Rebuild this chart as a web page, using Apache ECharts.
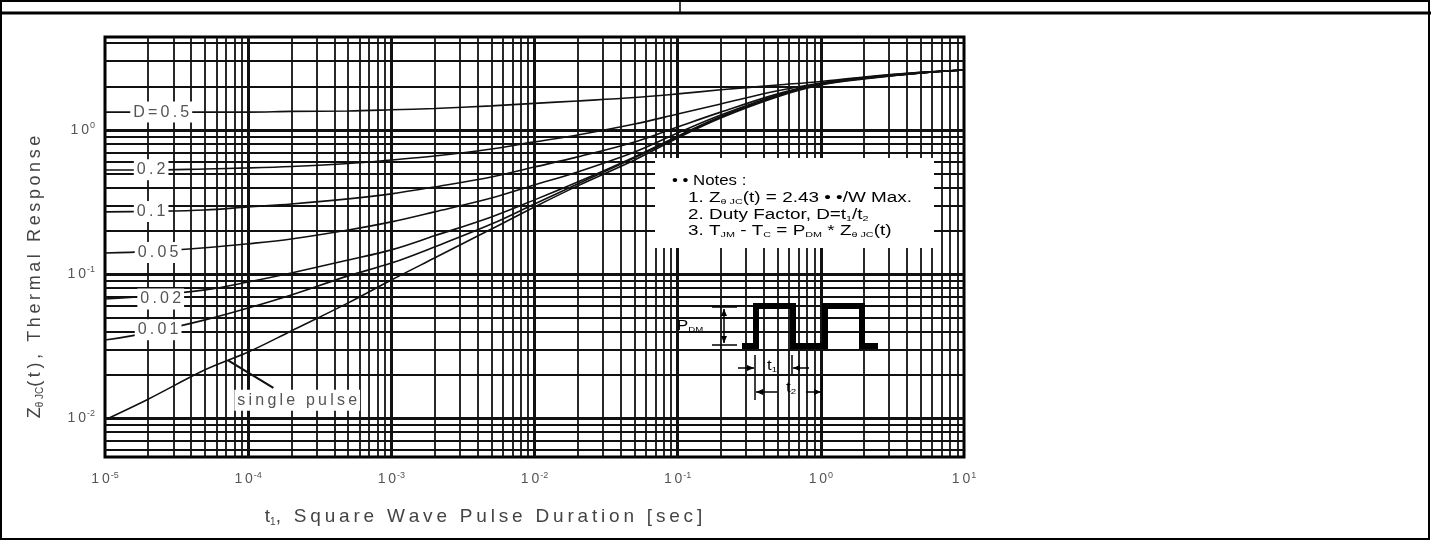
<!DOCTYPE html>
<html>
<head>
<meta charset="utf-8">
<title>Transient Thermal Response Curve</title>
<script src="https://cdn.jsdelivr.net/npm/echarts@6/dist/echarts.min.js"></script>
<style>
  html, body { margin: 0; padding: 0; background: #fff; }
  #main { width: 1431px; height: 541px; }
</style>
</head>
<body>
<div id="main"></div>
<script>
// t1, pulse duration (sec) where curves were read
var pulseTimes = [1e-5, 2e-5, 5e-5, 1e-4, 2e-4, 5e-4, 1e-3, 2e-3, 5e-3, 1e-2, 2e-2, 5e-2, 0.1, 0.2, 0.5, 1, 2, 5, 10];

// Z(t) for each duty factor
var zD50 = [1.33, 1.33, 1.33, 1.33, 1.345, 1.355, 1.38, 1.41, 1.47, 1.53, 1.59, 1.68, 1.78, 1.90, 2.05, 2.17, 2.33, 2.51, 2.61];
var zD20 = [0.527, 0.527, 0.536, 0.545, 0.558, 0.585, 0.619, 0.66, 0.738, 0.826, 0.923, 1.10, 1.29, 1.515, 1.87, 2.12, 2.31, 2.51, 2.61];
var zD10 = [0.27, 0.272, 0.278, 0.292, 0.306, 0.332, 0.36, 0.402, 0.472, 0.553, 0.65, 0.826, 1.05, 1.33, 1.78, 2.10, 2.30, 2.49, 2.61];
var zD05 = [0.140, 0.143, 0.152, 0.162, 0.175, 0.202, 0.23, 0.27, 0.337, 0.415, 0.511, 0.703, 0.953, 1.27, 1.75, 2.09, 2.30, 2.49, 2.61];
var zD02 = [0.067, 0.0704, 0.0775, 0.088, 0.1016, 0.125, 0.147, 0.184, 0.249, 0.327, 0.435, 0.65, 0.905, 1.24, 1.735, 2.09, 2.28, 2.49, 2.61];
var zD01 = [0.0348, 0.039, 0.048, 0.058, 0.0715, 0.097, 0.119, 0.154, 0.222, 0.306, 0.422, 0.64, 0.894, 1.23, 1.72, 2.07, 2.28, 2.49, 2.61];
var zSingle = [0.0097, 0.0135, 0.0216, 0.0287, 0.0402, 0.063, 0.0908, 0.129, 0.205, 0.292, 0.409, 0.619, 0.88, 1.21, 1.70, 2.05, 2.26, 2.49, 2.61];

// curve tags [t, Z, text]
var curveTags = [
  [2.47e-5, 1.33, 'D=0.5'],
  [2.1e-5, 0.53, '0.2'],
  [2.1e-5, 0.272, '0.1'],
  [2.35e-5, 0.141, '0.05'],
  [2.45e-5, 0.067, '0.02'],
  [2.35e-5, 0.041, '0.01'],
  [2.2e-4, 0.0133, 'single pulse']
];
var leaderPts = [[7.24e-5, 0.0251], [1.5e-4, 0.0162]];

// axis ranges and labelled decades
var xRange = [1e-5, 10];
var yRange = [0.00536, 4.42];
var xTickExps = [-5, -4, -3, -2, -1, 0, 1];
var yTickExps = [-2, -1, 0];

var FONT = '"Liberation Sans", Arial, sans-serif';
var INK = '#111';
var TXT = '#555';

function spaced(s) { return s.split('').join('\u2009'); }

function pair(ys) {
  return pulseTimes.map(function (t, i) { return [t, ys[i]]; });
}

// log grid positions (1..9 per decade), borders left out
function logGrid(lo, hi) {
  var out = [];
  for (var e = Math.floor(Math.log10(lo)); e <= Math.ceil(Math.log10(hi)); e++) {
    for (var k = 1; k <= 9; k++) {
      var v = k * Math.pow(10, e);
      if (v > lo * 1.001 && v < hi * 0.999) out.push({ v: v, major: k === 1 });
    }
  }
  return out;
}

function decadeLabel(exps) {
  return function (val) {
    var e = Math.log10(val);
    var r = Math.round(e);
    if (Math.abs(e - r) > 1e-6 || exps.indexOf(r) < 0) return '';
    return '{b|1\u20090}{s|' + r + '}';
  };
}

var gridLines = [];
logGrid(xRange[0], xRange[1]).forEach(function (g) {
  gridLines.push({ xAxis: g.v, lineStyle: { width: g.major ? 3 : 1.8 } });
});
logGrid(yRange[0], yRange[1]).forEach(function (g) {
  gridLines.push({ yAxis: g.v, lineStyle: { width: g.major ? 3 : 1.8 } });
});

var tickRich = {
  b: { fontFamily: FONT, fontSize: 14, color: TXT },
  s: { fontFamily: FONT, fontSize: 9, color: TXT, padding: [0, 0, 8, 1] }
};
var nameRichX = {
  n: { fontFamily: FONT, fontSize: 19, color: '#444' },
  sub: { fontFamily: FONT, fontSize: 10, color: '#444', padding: [10, 0, 0, 0] }
};
var nameRichY = {
  n: { fontFamily: FONT, fontSize: 18, color: '#444' },
  sub: { fontFamily: FONT, fontSize: 10, color: '#444', padding: [10, 0, 0, 0] }
};
var noteRich = {
  n: { fontFamily: FONT, fontSize: 14, color: '#444' },
  sub: { fontFamily: FONT, fontSize: 8, color: '#444', padding: [7, 0, 0, 0] }
};

function curve(name, ys) {
  return {
    name: name,
    type: 'line',
    data: pair(ys),
    symbol: 'none',
    smooth: 0.35,
    lineStyle: { color: INK, width: 1.6 },
    z: 2
  };
}

function note(x, y, text, sx) {
  return { type: 'text', z: 11, x: x, y: y, scaleX: sx || 1.35,
    style: { text: text, rich: noteRich, verticalAlign: 'middle' } };
}

var chart = echarts.init(document.getElementById('main'));

var option = {
  animation: false,
  backgroundColor: '#fff',
  grid: {
    left: 105, right: 467, top: 37, bottom: 84,
    show: true, borderColor: '#000', borderWidth: 3, backgroundColor: '#fff'
  },
  xAxis: {
    type: 'log', logBase: 10,
    min: xRange[0], max: xRange[1],
    axisLine: { show: false },
    axisTick: { show: false },
    splitLine: { show: false },
    axisLabel: { margin: 14, formatter: decadeLabel(xTickExps), rich: tickRich },
    name: '{n|' + spaced('t') + '}{sub|1}{n|' + spaced(', Square Wave Pulse Duration [sec]') + '}',
    nameLocation: 'middle',
    nameGap: 50,
    nameTextStyle: { padding: [0, 102, 0, 0], rich: nameRichX }
  },
  yAxis: {
    type: 'log', logBase: 10,
    min: yRange[0], max: yRange[1],
    axisLine: { show: false },
    axisTick: { show: false },
    splitLine: { show: false },
    axisLabel: { margin: 10, formatter: decadeLabel(yTickExps), rich: tickRich },
    name: '{n|Z}{sub|\u03b8 JC}{n|' + spaced('(t), Thermal Response') + '}',
    nameLocation: 'middle',
    nameGap: 60,
    nameTextStyle: { padding: [0, 60, 0, 0], rich: nameRichY }
  },
  series: [
    {
      name: 'grid',
      type: 'line',
      data: [],
      silent: true,
      markLine: {
        silent: true,
        z: 1,
        precision: 12,
        symbol: ['none', 'none'],
        label: { show: false },
        emphasis: { disabled: true },
        lineStyle: { color: INK, type: 'solid', width: 1.8 },
        data: gridLines
      }
    },
    curve('D=0.5', zD50),
    curve('0.2', zD20),
    curve('0.1', zD10),
    curve('0.05', zD05),
    curve('0.02', zD02),
    curve('0.01', zD01),
    curve('single pulse', zSingle),
    {
      name: 'leader',
      type: 'line',
      data: leaderPts,
      symbol: 'none',
      lineStyle: { color: INK, width: 2.2 },
      z: 3
    }
  ],
  graphic: [
    // page frame
    { type: 'rect', z: 20, shape: { x: 1, y: 1, width: 1428, height: 538 }, style: { fill: 'none', stroke: '#000', lineWidth: 2 } },
    { type: 'line', z: 20, shape: { x1: 0, y1: 13, x2: 1431, y2: 13 }, style: { stroke: '#000', lineWidth: 3 } },
    { type: 'line', z: 20, shape: { x1: 680, y1: 0, x2: 680, y2: 13 }, style: { stroke: '#000', lineWidth: 1.5 } },

    // notes box
    { type: 'rect', z: 10, shape: { x: 655, y: 158, width: 279, height: 90 }, style: { fill: '#fff' } },
    note(672, 181, '{n|\u2022 \u2022 Notes :}', 1.2),
    note(688, 198, '{n|1. Z}{sub|\u03b8 JC}{n|(t) = 2.43 \u2022 \u2022/W Max.}'),
    note(688, 215, '{n|2. Duty Factor, D=t}{sub|1}{n|/t}{sub|2}'),
    note(688, 231, '{n|3. T}{sub|JM}{n| - T}{sub|C}{n| = P}{sub|DM}{n| * Z}{sub|\u03b8 JC}{n|(t)}'),

    // pulse sketch
    { type: 'polyline', z: 10, shape: { points: [[742, 346], [756, 346], [756, 306], [793, 306], [793, 346], [825, 346], [825, 306], [862, 306], [862, 346], [878, 346]] },
      style: { fill: 'none', stroke: '#000', lineWidth: 6, lineJoin: 'miter' } },
    note(677, 326, '{n|P}{sub|DM}', 1.2),
    { type: 'line', z: 10, shape: { x1: 712, y1: 307, x2: 737, y2: 307 }, style: { stroke: '#000', lineWidth: 1.5 } },
    { type: 'line', z: 10, shape: { x1: 712, y1: 345, x2: 737, y2: 345 }, style: { stroke: '#000', lineWidth: 1.5 } },
    { type: 'line', z: 10, shape: { x1: 724, y1: 309, x2: 724, y2: 343 }, style: { stroke: '#000', lineWidth: 1.5 } },
    { type: 'polygon', z: 10, shape: { points: [[724, 309], [721, 316], [727, 316]] }, style: { fill: '#000' } },
    { type: 'polygon', z: 10, shape: { points: [[724, 343], [721, 336], [727, 336]] }, style: { fill: '#000' } },

    { type: 'line', z: 10, shape: { x1: 755, y1: 355, x2: 755, y2: 400 }, style: { stroke: '#000', lineWidth: 1.5 } },
    { type: 'line', z: 10, shape: { x1: 792, y1: 355, x2: 792, y2: 374 }, style: { stroke: '#000', lineWidth: 1.5 } },
    { type: 'line', z: 10, shape: { x1: 822, y1: 377, x2: 822, y2: 400 }, style: { stroke: '#000', lineWidth: 1.5 } },
    { type: 'line', z: 10, shape: { x1: 738, y1: 368, x2: 754, y2: 368 }, style: { stroke: '#000', lineWidth: 1.5 } },
    { type: 'polygon', z: 10, shape: { points: [[754, 368], [747, 365], [747, 371]] }, style: { fill: '#000' } },
    { type: 'line', z: 10, shape: { x1: 793, y1: 368, x2: 809, y2: 368 }, style: { stroke: '#000', lineWidth: 1.5 } },
    { type: 'polygon', z: 10, shape: { points: [[793, 368], [800, 365], [800, 371]] }, style: { fill: '#000' } },
    note(767, 366, '{n|t}{sub|1}', 1.2),
    { type: 'line', z: 10, shape: { x1: 756, y1: 392, x2: 777, y2: 392 }, style: { stroke: '#000', lineWidth: 1.5 } },
    { type: 'polygon', z: 10, shape: { points: [[756, 392], [763, 389], [763, 395]] }, style: { fill: '#000' } },
    { type: 'line', z: 10, shape: { x1: 806, y1: 392, x2: 821, y2: 392 }, style: { stroke: '#000', lineWidth: 1.5 } },
    { type: 'polygon', z: 10, shape: { points: [[821, 392], [814, 389], [814, 395]] }, style: { fill: '#000' } },
    note(786, 388, '{n|t}{sub|2}', 1.2)
  ]
};

chart.setOption(option);

// curve tags placed through the axes, on white boxes above the grid
var tagGraphics = curveTags.map(function (tag) {
  var p = chart.convertToPixel({ gridIndex: 0 }, [tag[0], tag[1]]);
  return {
    type: 'text', z: 12, x: p[0], y: p[1],
    style: {
      text: spaced(tag[2]), font: '16px ' + FONT, fill: TXT,
      align: 'center', verticalAlign: 'middle',
      backgroundColor: '#fff', padding: [3, 3, 2, 3]
    }
  };
});
chart.setOption({ graphic: option.graphic.concat(tagGraphics) });
</script>
</body>
</html>
